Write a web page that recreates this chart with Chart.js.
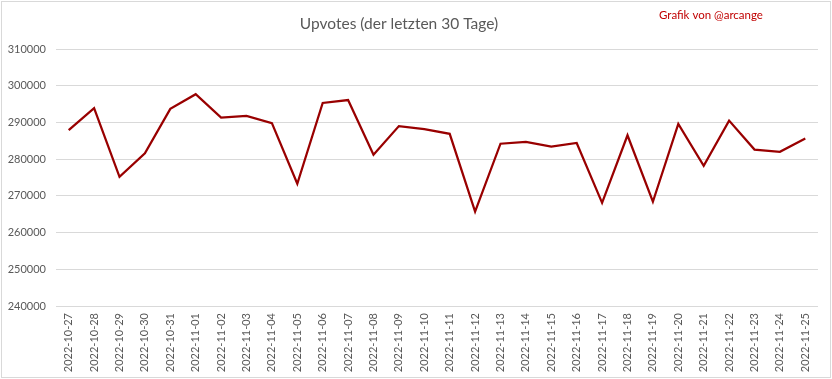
<!DOCTYPE html>
<html><head><meta charset="utf-8">
<script src="https://cdn.jsdelivr.net/npm/chart.js@4"></script>
<style>html,body{margin:0;padding:0;background:#fff}#wrap{width:832px;height:379px;position:relative}</style>
</head><body><div id="wrap"><canvas id="c" width="832" height="379"></canvas></div>
<script>
const titleText = "Upvotes (der letzten 30 Tage)";
const creditText = "Grafik von @arcange";
const categories = ["2022-10-27","2022-10-28","2022-10-29","2022-10-30","2022-10-31","2022-11-01","2022-11-02","2022-11-03","2022-11-04","2022-11-05","2022-11-06","2022-11-07","2022-11-08","2022-11-09","2022-11-10","2022-11-11","2022-11-12","2022-11-13","2022-11-14","2022-11-15","2022-11-16","2022-11-17","2022-11-18","2022-11-19","2022-11-20","2022-11-21","2022-11-22","2022-11-23","2022-11-24","2022-11-25"];
const upvotes = [287900,293900,275200,281600,293700,297700,291300,291800,289800,273300,295300,296100,281200,289000,288200,286900,265700,284200,284700,283400,284400,268100,286500,268400,289600,278200,290500,282600,282000,285600];
const yMin = 240000, yMax = 310000, yStep = 10000;

const deco = {
  id: 'deco',
  afterDraw(chart) {
    const ctx = chart.ctx;
    ctx.save();
    ctx.strokeStyle = '#d9d9d9';
    ctx.lineWidth = 1;
    ctx.strokeRect(1.5, 1.5, 829, 376);
    ctx.fillStyle = '#595959';
    ctx.font = '15.5px Lato';
    ctx.textAlign = 'center';
    ctx.textBaseline = 'alphabetic';
    ctx.fillText(titleText, 399, 29);
    ctx.fillStyle = '#c00000';
    ctx.font = '11.5px Lato';
    ctx.textAlign = 'left';
    ctx.fillText(creditText, 659, 19);
    ctx.restore();
  }
};

new Chart(document.getElementById('c'), {
  type: 'line',
  data: { labels: categories, datasets: [{ data: upvotes, borderColor: '#990000', borderWidth: 2.25, pointRadius: 0, tension: 0, fill: false }] },
  options: {
    responsive: false, animation: false,
    layout: { padding: { top: 49, right: 14, left: 0, bottom: 0 } },
    plugins: { legend: { display: false }, title: { display: false }, tooltip: { enabled: false } },
    scales: {
      x: {
        offset: true,
        grid: { display: false, drawTicks: false },
        border: { display: false },
        ticks: { maxRotation: 90, minRotation: 90, autoSkip: false, color: '#595959', font: { family: 'Lato', size: 11 }, padding: 7 },
        afterFit(s) { s.height = 73; }
      },
      y: {
        min: yMin, max: yMax,
        grid: { color: '#d9d9d9', lineWidth: 1, drawTicks: false },
        border: { display: false },
        ticks: { stepSize: yStep, color: '#595959', font: { family: 'Lato', size: 11 }, padding: 10, callback: v => String(v) },
        afterFit(s) { s.width = 56; }
      }
    }
  },
  plugins: [deco]
});
</script></body></html>
